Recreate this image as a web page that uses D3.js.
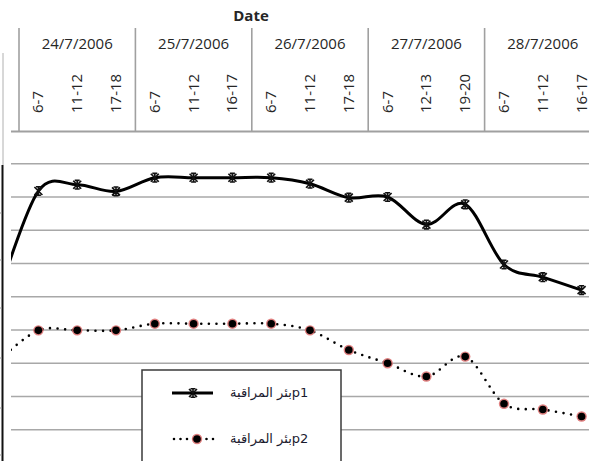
<!DOCTYPE html>
<html><head><meta charset="utf-8">
<script src="https://cdn.jsdelivr.net/npm/d3@7"></script>
<style>
html,body{margin:0;padding:0;background:#fff;overflow:hidden}
svg{display:block;font-family:"Open Sans","Noto Sans","DejaVu Sans",sans-serif}
</style></head>
<body>
<script>
// ---- data ----
// first category lies just outside the visible frame (no label visible)
const dateGroups = ["", "24/7/2006", "25/7/2006", "26/7/2006", "27/7/2006", "28/7/2006"];
const dateOf = ["", "24/7/2006","24/7/2006","24/7/2006","25/7/2006","25/7/2006","25/7/2006",
  "26/7/2006","26/7/2006","26/7/2006","27/7/2006","27/7/2006","27/7/2006","28/7/2006","28/7/2006","28/7/2006"];
const timeOf = ["", "6-7","11-12","17-18","6-7","11-12","16-17","6-7","11-12","17-18","6-7","12-13","19-20","6-7","11-12","16-17"];
const p1 = [5.14, 8.18, 8.37, 8.17, 8.58, 8.58, 8.58, 8.58, 8.40, 7.98, 8.00, 7.17, 7.78, 5.97, 5.59, 5.20];
const p2 = [3.10, 3.99, 3.99, 3.99, 4.19, 4.19, 4.19, 4.19, 3.99, 3.40, 3.00, 2.60, 3.20, 1.78, 1.61, 1.40];
const gridValues = [1, 2, 3, 4, 5, 6, 7, 8, 9];
const seriesNames = ["بئر المراقبةp1", "بئر المراقبةp2"];
const axisTitle = "Date";

const W = 589, H = 461;
const svg = d3.select("body").append("svg").attr("width", W).attr("height", H);

const idx = d3.range(timeOf.length);
const x = d3.scaleBand().domain(idx).range([-19.8, 601]).padding(0);
const cx = i => x(i) + x.bandwidth() / 2;
const y = d3.scaleLinear().domain([0, 9]).range([463, 163.75]);

// clip for plot area
svg.append("defs").append("clipPath").attr("id", "plot")
  .append("rect").attr("x", 11).attr("y", 133).attr("width", W).attr("height", H);

// gridlines
svg.append("g").selectAll("line").data(gridValues).join("line")
  .attr("x1", 11).attr("x2", W).attr("y1", d => y(d)).attr("y2", d => y(d))
  .attr("stroke", "#a8a8a8").attr("stroke-width", 1.6);

// left edge remnants (cropped value axis)
svg.append("line").attr("x1", 3).attr("x2", 3).attr("y1", 53).attr("y2", 165)
  .attr("stroke", "#b0b0b0").attr("stroke-width", 1);
svg.append("line").attr("x1", 2.5).attr("x2", 2.5).attr("y1", 165).attr("y2", H)
  .attr("stroke", "#111").attr("stroke-width", 2);
svg.append("g").selectAll("line").data([213, 260, 308, 358, 408, 455]).join("line")
  .attr("x1", 0).attr("x2", 2).attr("y1", d => d).attr("y2", d => d)
  .attr("stroke", "#999").attr("stroke-width", 1);

// top category axis
const axisY = 131.5;
svg.append("line").attr("x1", 11).attr("x2", W).attr("y1", axisY).attr("y2", axisY)
  .attr("stroke", "#a0a0a0").attr("stroke-width", 2.2);

// group separators, computed from band positions
const groupStarts = dateGroups.map(g => idx.find(i => dateOf[i] === g));
const groupEnds = dateGroups.map(g => idx.filter(i => dateOf[i] === g).slice(-1)[0]);
svg.append("g").selectAll("line").data(dateGroups.slice(1)).join("line")
  .attr("x1", (d, k) => x(groupStarts[k + 1])).attr("x2", (d, k) => x(groupStarts[k + 1]))
  .attr("y1", 28).attr("y2", axisY)
  .attr("stroke", "#a0a0a0").attr("stroke-width", 1.6);
svg.append("line").attr("x1", x(groupEnds[5]) + x.bandwidth()).attr("x2", x(groupEnds[5]) + x.bandwidth())
  .attr("y1", 28).attr("y2", axisY).attr("stroke", "#a0a0a0").attr("stroke-width", 1.6);

// date labels
svg.append("g").selectAll("text").data(dateGroups.slice(1)).join("text")
  .attr("x", (d, k) => (x(groupStarts[k + 1]) + x(groupEnds[k + 1]) + x.bandwidth()) / 2)
  .attr("y", 49).attr("text-anchor", "middle")
  .attr("font-size", 15).attr("fill", "#262626").text(d => d);

// time labels via axis
const timeAxis = d3.axisTop(x).tickSize(0).tickFormat(i => timeOf[i]);
const ta = svg.append("g").attr("transform", "translate(0,113)").call(timeAxis);
ta.select(".domain").remove();
ta.selectAll(".tick text")
  .attr("transform", "rotate(-90)")
  .attr("x", 0).attr("y", 0).attr("dy", "0.33em")
  .attr("text-anchor", "start")
  .attr("font-size", 15).attr("font-family", "'Open Sans',sans-serif").attr("fill", "#262626");

// axis title
svg.append("text").attr("x", 251).attr("y", 20.5).attr("text-anchor", "middle")
  .attr("font-size", 15).attr("font-weight", "bold").attr("fill", "#262626").text(axisTitle);

// lines
const line = v => d3.line().x((d, i) => cx(i)).y(d => y(d)).curve(d3.curveCardinal.tension(0))(v);
const plot = svg.append("g").attr("clip-path", "url(#plot)");
plot.append("path").attr("d", line(p1)).attr("fill", "none")
  .attr("stroke", "#000").attr("stroke-width", 3);
plot.append("path").attr("d", line(p2)).attr("fill", "none")
  .attr("stroke", "#000").attr("stroke-width", 2.6)
  .attr("stroke-linecap", "round").attr("stroke-dasharray", "0 7.6");

const starPath = "M-4,-4L4,4M-4,4L4,-4M0,-4.6L0,4.6M-2.5,-4.3L2.5,-4.3M-2.5,4.3L2.5,4.3";
function star(g, px, py) {
  g.append("path").attr("d", starPath).attr("transform", `translate(${px},${py})`)
    .attr("fill", "none").attr("stroke", "#111").attr("stroke-width", 1.6);
}
function dot(g, px, py) {
  g.append("circle").attr("cx", px).attr("cy", py).attr("r", 5.2)
    .attr("fill", "#d96a6a").attr("opacity", 0.85);
  g.append("circle").attr("cx", px).attr("cy", py).attr("r", 3.8).attr("fill", "#000");
}
p1.forEach((v, i) => { if (i > 0) star(plot, cx(i), y(v)); });
p2.forEach((v, i) => { if (i > 0) dot(plot, cx(i), y(v)); });

// legend
const lg = svg.append("g");
lg.append("rect").attr("x", 142).attr("y", 370).attr("width", 199).attr("height", 110)
  .attr("fill", "#fff").attr("stroke", "#3a3a3a").attr("stroke-width", 1.5);
lg.append("line").attr("x1", 172).attr("x2", 213).attr("y1", 393).attr("y2", 393)
  .attr("stroke", "#000").attr("stroke-width", 3);
star(lg, 193, 393);
lg.append("line").attr("x1", 174).attr("x2", 216).attr("y1", 439).attr("y2", 439)
  .attr("stroke", "#000").attr("stroke-width", 2.6).attr("stroke-linecap", "round").attr("stroke-dasharray", "0 6.5");
dot(lg, 197, 439);
lg.selectAll("text.lt").data(seriesNames).join("text").attr("class", "lt")
  .attr("x", 230).attr("y", (d, k) => 397 + k * 46)
  .attr("font-size", 13).attr("fill", "#1a1a2e")
  .attr("font-family", "'DejaVu Sans',sans-serif")
  .text(d => d);
</script>
</body></html>
